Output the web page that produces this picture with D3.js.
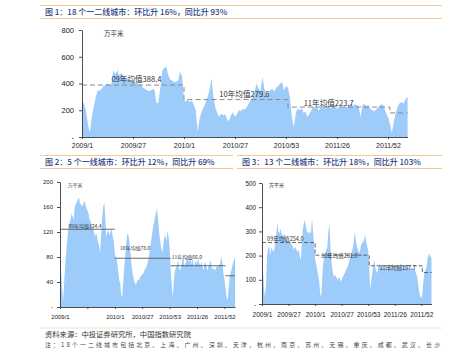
<!DOCTYPE html>
<html>
<head>
<meta charset="utf-8">
<script src="https://cdn.jsdelivr.net/npm/d3@7"></script>
<style>
  html, body { margin: 0; padding: 0; background: #fff; }
  svg { display: block; }
</style>
</head>
<body>
<svg id="page" width="474" height="348"></svg>
<script>
// Weekly categories: 2009 (52 weeks), 2010 (53), 2011 (52), first 10 weeks of 2012
const yearWeeks = [[2009, 52], [2010, 53], [2011, 52], [2012, 10]];
const weeks = yearWeeks.flatMap(([yr, n]) => d3.range(1, n + 1).map(w => `${yr}/${w}`));
const tickWeeks = ["2009/1", "2009/27", "2010/1", "2010/27", "2010/53", "2011/26", "2011/52"];
const meanYears = ["09", "10", "11", "12"];

// 18 tier-1 and tier-2 cities, weekly transaction area (万平米)
const tier12Sales = [
  264, 250, 200, 100, 30, 150, 225, 300, 350, 345,
  360, 380, 390, 400, 390, 395, 500, 470, 500, 460,
  480, 450, 445, 440, 430, 425, 420, 410, 400, 395,
  390, 370, 360, 350, 345, 345, 360, 350, 250, 260,
  380, 500, 515, 525, 460, 430, 420, 410, 415, 420,
  490, 450, 275, 265, 280, 260, 275, 240, 200, 40,
  140, 190, 220, 260, 300, 350, 440, 300, 220, 180,
  150, 175, 160, 170, 130, 120, 165, 185, 150, 170,
  200, 195, 210, 205, 225, 250, 280, 300, 340, 400,
  360, 340, 450, 360, 320, 315, 350, 360, 340, 370,
  380, 400, 410, 350, 380, 370, 300, 150, 70, 180,
  215, 200, 215, 180, 190, 150, 175, 200, 230, 220,
  215, 200, 235, 240, 210, 225, 230, 215, 225, 220,
  210, 230, 225, 215, 230, 225, 240, 250, 230, 245,
  240, 230, 150, 240, 245, 230, 240, 210, 200, 190,
  205, 220, 240, 245, 225, 180, 150, 100, 30, 120,
  180, 230, 255, 260, 250, 285, 300
];
const tier12Means = [388.4, 279.8, 223.7, 180];
const tier12Ticks = [0, 200, 400, 600, 800];

// 5 tier-1 cities
const tier1Sales = [
  82, 60, 30, 10, 40, 70, 90, 110, 125, 135,
  140, 150, 145, 140, 160, 165, 168, 172, 176, 165,
  165, 160, 165, 170, 165, 158, 155, 150, 140, 138,
  132, 125, 123, 112, 118, 115, 104, 100, 86, 115,
  144, 160, 168, 140, 112, 120, 123, 115, 120, 125,
  112, 107, 85, 80, 75, 60, 45, 38, 20, 16,
  40, 65, 85, 105, 118, 115, 102, 85, 65, 52,
  45, 38, 36, 40, 45, 42, 48, 50, 52, 54,
  58, 62, 64, 70, 78, 88, 100, 112, 125, 134,
  142, 150, 158, 140, 120, 107, 95, 86, 100, 112,
  115, 105, 123, 112, 96, 60, 35, 16, 40, 59,
  62, 68, 75, 62, 58, 66, 76, 80, 64, 70,
  75, 82, 72, 75, 78, 68, 80, 62, 70, 74,
  69, 78, 70, 66, 72, 65, 59, 68, 72, 64,
  58, 66, 69, 75, 62, 60, 64, 58, 62, 66,
  64, 67, 70, 80, 72, 54, 45, 30, 16, 10,
  30, 48, 55, 62, 70, 75, 80
];
const tier1Means = [124.4, 78.0, 66.0, 50];
const tier1Ticks = [0, 40, 80, 120, 160, 200];

// 13 tier-2 cities
const tier2Sales = [
  175, 140, 60, 30, 90, 200, 230, 240, 200, 235,
  225, 215, 225, 255, 290, 333, 300, 292, 310, 295,
  280, 285, 290, 270, 262, 257, 250, 258, 257, 245,
  240, 225, 232, 235, 220, 216, 225, 200, 182, 250,
  310, 333, 347, 320, 300, 292, 300, 290, 300, 354,
  300, 240, 185, 165, 140, 120, 95, 40, 30, 110,
  170, 195, 210, 225, 237, 300, 333, 240, 180, 140,
  118, 113, 120, 108, 99, 110, 105, 92, 100, 110,
  120, 127, 138, 148, 154, 170, 185, 205, 215, 235,
  264, 299, 260, 237, 225, 209, 220, 245, 251, 258,
  264, 285, 260, 237, 225, 150, 58, 100, 127, 160,
  182, 150, 135, 127, 150, 168, 145, 160, 165, 150,
  140, 158, 145, 133, 150, 160, 148, 155, 165, 160,
  150, 140, 155, 162, 148, 160, 168, 155, 145, 160,
  150, 165, 155, 145, 155, 140, 150, 148, 145, 150,
  138, 125, 113, 80, 50, 30, 25, 40, 90, 127,
  140, 150, 182, 200, 209, 195, 190
];
const tier2Means = [254.0, 201.8, 157.7, 130];
const tier2Ticks = [0, 100, 200, 300, 400, 500];

const titles = [
  "图 1：18 个一二线城市：环比升 16%，同比升 93%",
  "图 2：5 个一线城市：环比升 12%，同比升 69%",
  "图 3：13 个二线城市：环比升 18%，同比升 103%"
];
const unitLabel = "万平米";
const sourceNote = "资料来源：中投证券研究所，中国指数研究院";
const footNote = "注：18个一二线城市包括北京、上海、广州、深圳、天津、杭州、南京、苏州、无锡、重庆、成都、武汉、长沙";

const svg = d3.select("#page");
const AREA_FILL = "#9dcbfa";
const CJK = "'Noto Sans CJK SC', 'Noto Sans', sans-serif";
const LATIN = "'Liberation Sans', Arial, sans-serif";

// Title bars with their thin orange rules
function titleBar(text, x0, x1, yTop, yBottom, textX, textY) {
  const g = svg.append("g");
  [yTop, yBottom].forEach(yy => {
    g.append("line").attr("x1", x0).attr("x2", x1).attr("y1", yy).attr("y2", yy)
      .attr("stroke", "#f3c796").attr("stroke-width", 1);
  });
  g.append("text").attr("x", textX).attr("y", textY)
    .attr("font-family", CJK).attr("font-size", 8).attr("font-weight", 500)
    .attr("fill", "#2a3f80").text(text);
}

titleBar(titles[0], 40, 442, 5.5, 18.5, 45, 15);
titleBar(titles[1], 40, 233, 155.5, 168.5, 45, 165);
titleBar(titles[2], 237, 442, 155.5, 168.5, 242, 165);

function drawChart(cfg) {
  const g = svg.append("g");
  const x = d3.scalePoint().domain(weeks).range([cfg.x0, cfg.x1]);
  const y = d3.scaleLinear().domain([0, cfg.yMax]).range([cfg.yBottom, cfg.yTop]);
  const rows = weeks.map((w, i) => ({ week: w, v: cfg.values[i] }));

  g.append("path").datum(rows)
    .attr("fill", AREA_FILL)
    .attr("d", d3.area().x(d => x(d.week)).y0(y(0)).y1(d => y(d.v)));

  // Yearly averages: one horizontal run per year
  const starts = yearWeeks.map(([yr]) => `${yr}/1`);
  const segs = cfg.means.map((m, k) => ({
    from: starts[k],
    to: k + 1 < starts.length ? starts[k + 1] : weeks[weeks.length - 1],
    m
  }));
  const meanG = g.append("g").attr("fill", "none")
    .attr("stroke", cfg.meanColor).attr("stroke-width", cfg.meanWidth)
    .attr("stroke-dasharray", cfg.meanDash);
  if (cfg.meanSteps) {
    const pts = segs.flatMap(s => [[x(s.from), y(s.m)], [x(s.to), y(s.m)]]);
    meanG.append("path").attr("d", d3.line()(pts));
  } else {
    segs.forEach(s => {
      meanG.append("line").attr("x1", x(s.from)).attr("x2", x(s.to))
        .attr("y1", y(s.m)).attr("y2", y(s.m));
    });
  }

  // Labels for the labelled yearly averages
  cfg.meanLabels.forEach((lab, k) => {
    g.append("text")
      .attr("x", x(weeks[lab.at]))
      .attr("y", y(cfg.means[k]) + lab.dy)
      .attr("font-family", CJK).attr("font-size", cfg.meanFont)
      .attr("fill", "#333")
      .text(`${meanYears[k]}年均值${d3.format(".1f")(cfg.means[k])}`);
  });

  // Axes
  const yAxis = d3.axisLeft(y).tickValues(cfg.yTicks)
    .tickFormat(d => d === 0 ? "-" : d)
    .tickSize(3).tickSizeOuter(0).tickPadding(cfg.yPad);
  const ya = g.append("g").attr("transform", `translate(${cfg.x0},0)`).call(yAxis);

  const xAxis = d3.axisBottom(x).tickValues(tickWeeks)
    .tickFormat(w => cfg.hideTicks.includes(w) ? "" : w)
    .tickSize(2).tickSizeOuter(0).tickPadding(cfg.xPad);
  const xa = g.append("g").attr("transform", `translate(0,${cfg.yBottom})`).call(xAxis);

  [ya, xa].forEach(a => {
    a.select(".domain").attr("stroke", "#3a3a3a").attr("stroke-width", 0.9);
    a.selectAll(".tick line").attr("stroke", "#3a3a3a").attr("stroke-width", 0.9);
    a.selectAll("text").attr("fill", "#222").attr("font-family", LATIN);
  });
  ya.selectAll("text").attr("font-size", cfg.yFont);
  xa.selectAll("text").attr("font-size", cfg.xFont);

  g.append("text").attr("x", cfg.unitX).attr("y", cfg.unitY)
    .attr("font-family", CJK).attr("font-size", cfg.unitFont)
    .attr("fill", "#333").text(unitLabel);
}

drawChart({
  values: tier12Sales, means: tier12Means, yTicks: tier12Ticks, yMax: 800,
  x0: 82, x1: 407.6, yTop: 30, yBottom: 137,
  meanSteps: true, meanDash: "5,3", meanColor: "#8a8a8a", meanWidth: 1,
  meanLabels: [{ at: 15, dy: -3 }, { at: 70, dy: -2.5 }, { at: 113, dy: -1.5 }],
  meanFont: 7.6, yFont: 7.5, xFont: 7, yPad: 5, xPad: 4.5, hideTicks: [],
  unitX: 104, unitY: 36, unitFont: 6.5
});

drawChart({
  values: tier1Sales, means: tier1Means, yTicks: tier1Ticks, yMax: 200,
  x0: 60, x1: 235, yTop: 182, yBottom: 307,
  meanSteps: false, meanDash: null, meanColor: "#5a5a5a", meanWidth: 0.9,
  meanLabels: [{ at: 8, dy: -1.5 }, { at: 57, dy: -8 }, { at: 106, dy: -7 }],
  meanFont: 5, yFont: 6, xFont: 6, yPad: 4, xPad: 5.5, hideTicks: ["2009/27"],
  unitX: 68, unitY: 187, unitFont: 4.8
});

drawChart({
  values: tier2Sales, means: tier2Means, yTicks: tier2Ticks, yMax: 500,
  x0: 262, x1: 431.5, yTop: 183, yBottom: 304,
  meanSteps: true, meanDash: "4,2", meanColor: "#555", meanWidth: 0.9,
  meanLabels: [{ at: 5, dy: -1.5 }, { at: 58, dy: 3 }, { at: 115, dy: 4 }],
  meanFont: 5.5, yFont: 6.3, xFont: 6.5, yPad: 3, xPad: 6.5, hideTicks: [],
  unitX: 269, unitY: 187, unitFont: 5
});

// Source line and notes
svg.append("line").attr("x1", 40).attr("x2", 442).attr("y1", 328).attr("y2", 328)
  .attr("stroke", "#efe2d4").attr("stroke-width", 1);
svg.append("text").attr("x", 45).attr("y", 337)
  .attr("font-family", CJK).attr("font-size", 7.3).attr("fill", "#333")
  .text(sourceNote);
svg.append("text").attr("x", 45).attr("y", 346.5)
  .attr("font-family", CJK).attr("font-size", 6).attr("fill", "#444")
  .attr("textLength", 395).text(footNote);
</script>
</body>
</html>
